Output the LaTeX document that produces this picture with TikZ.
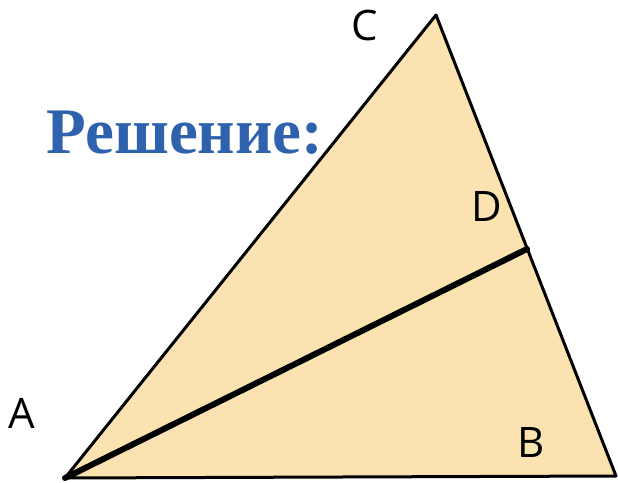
\documentclass[tikz,border=0pt]{standalone}
\usepackage{fontspec}
\setmainfont{Liberation Serif}
\newfontfamily\labelfont{Open Sans}
\usepackage{tikz}

\definecolor{triFill}{HTML}{FAE3B0}
\definecolor{titleBlue}{HTML}{2E62AD}

\begin{document}
\begin{tikzpicture}[x=1pt,y=-1pt,line width=3pt,line join=round,
    vlabel/.style={font=\labelfont\fontsize{42}{42}\selectfont,inner sep=0pt}]
  \useasboundingbox (0,0) rectangle (618,482);
  \coordinate (A) at (65,478);
  \coordinate (B) at (616,476);
  \coordinate (C) at (436,15);
  \coordinate (D) at (527,249);

  \filldraw[fill=triFill] (A) -- (B) -- (C) -- cycle;
  \draw[line width=6pt,line cap=round] (A) -- (D);

  \node[vlabel] (labA) at (22,413) {A};
  \node[vlabel] (labB) at (531,443) {B};
  \node[vlabel] (labC) at (365,25) {C};
  \node[vlabel] (labD) at (487,207) {D};
  \node[anchor=base west,inner sep=0pt,text=titleBlue,
      font=\bfseries\fontsize{65}{65}\selectfont] (title) at (45,153) {Решение:};
\end{tikzpicture}
\end{document}
